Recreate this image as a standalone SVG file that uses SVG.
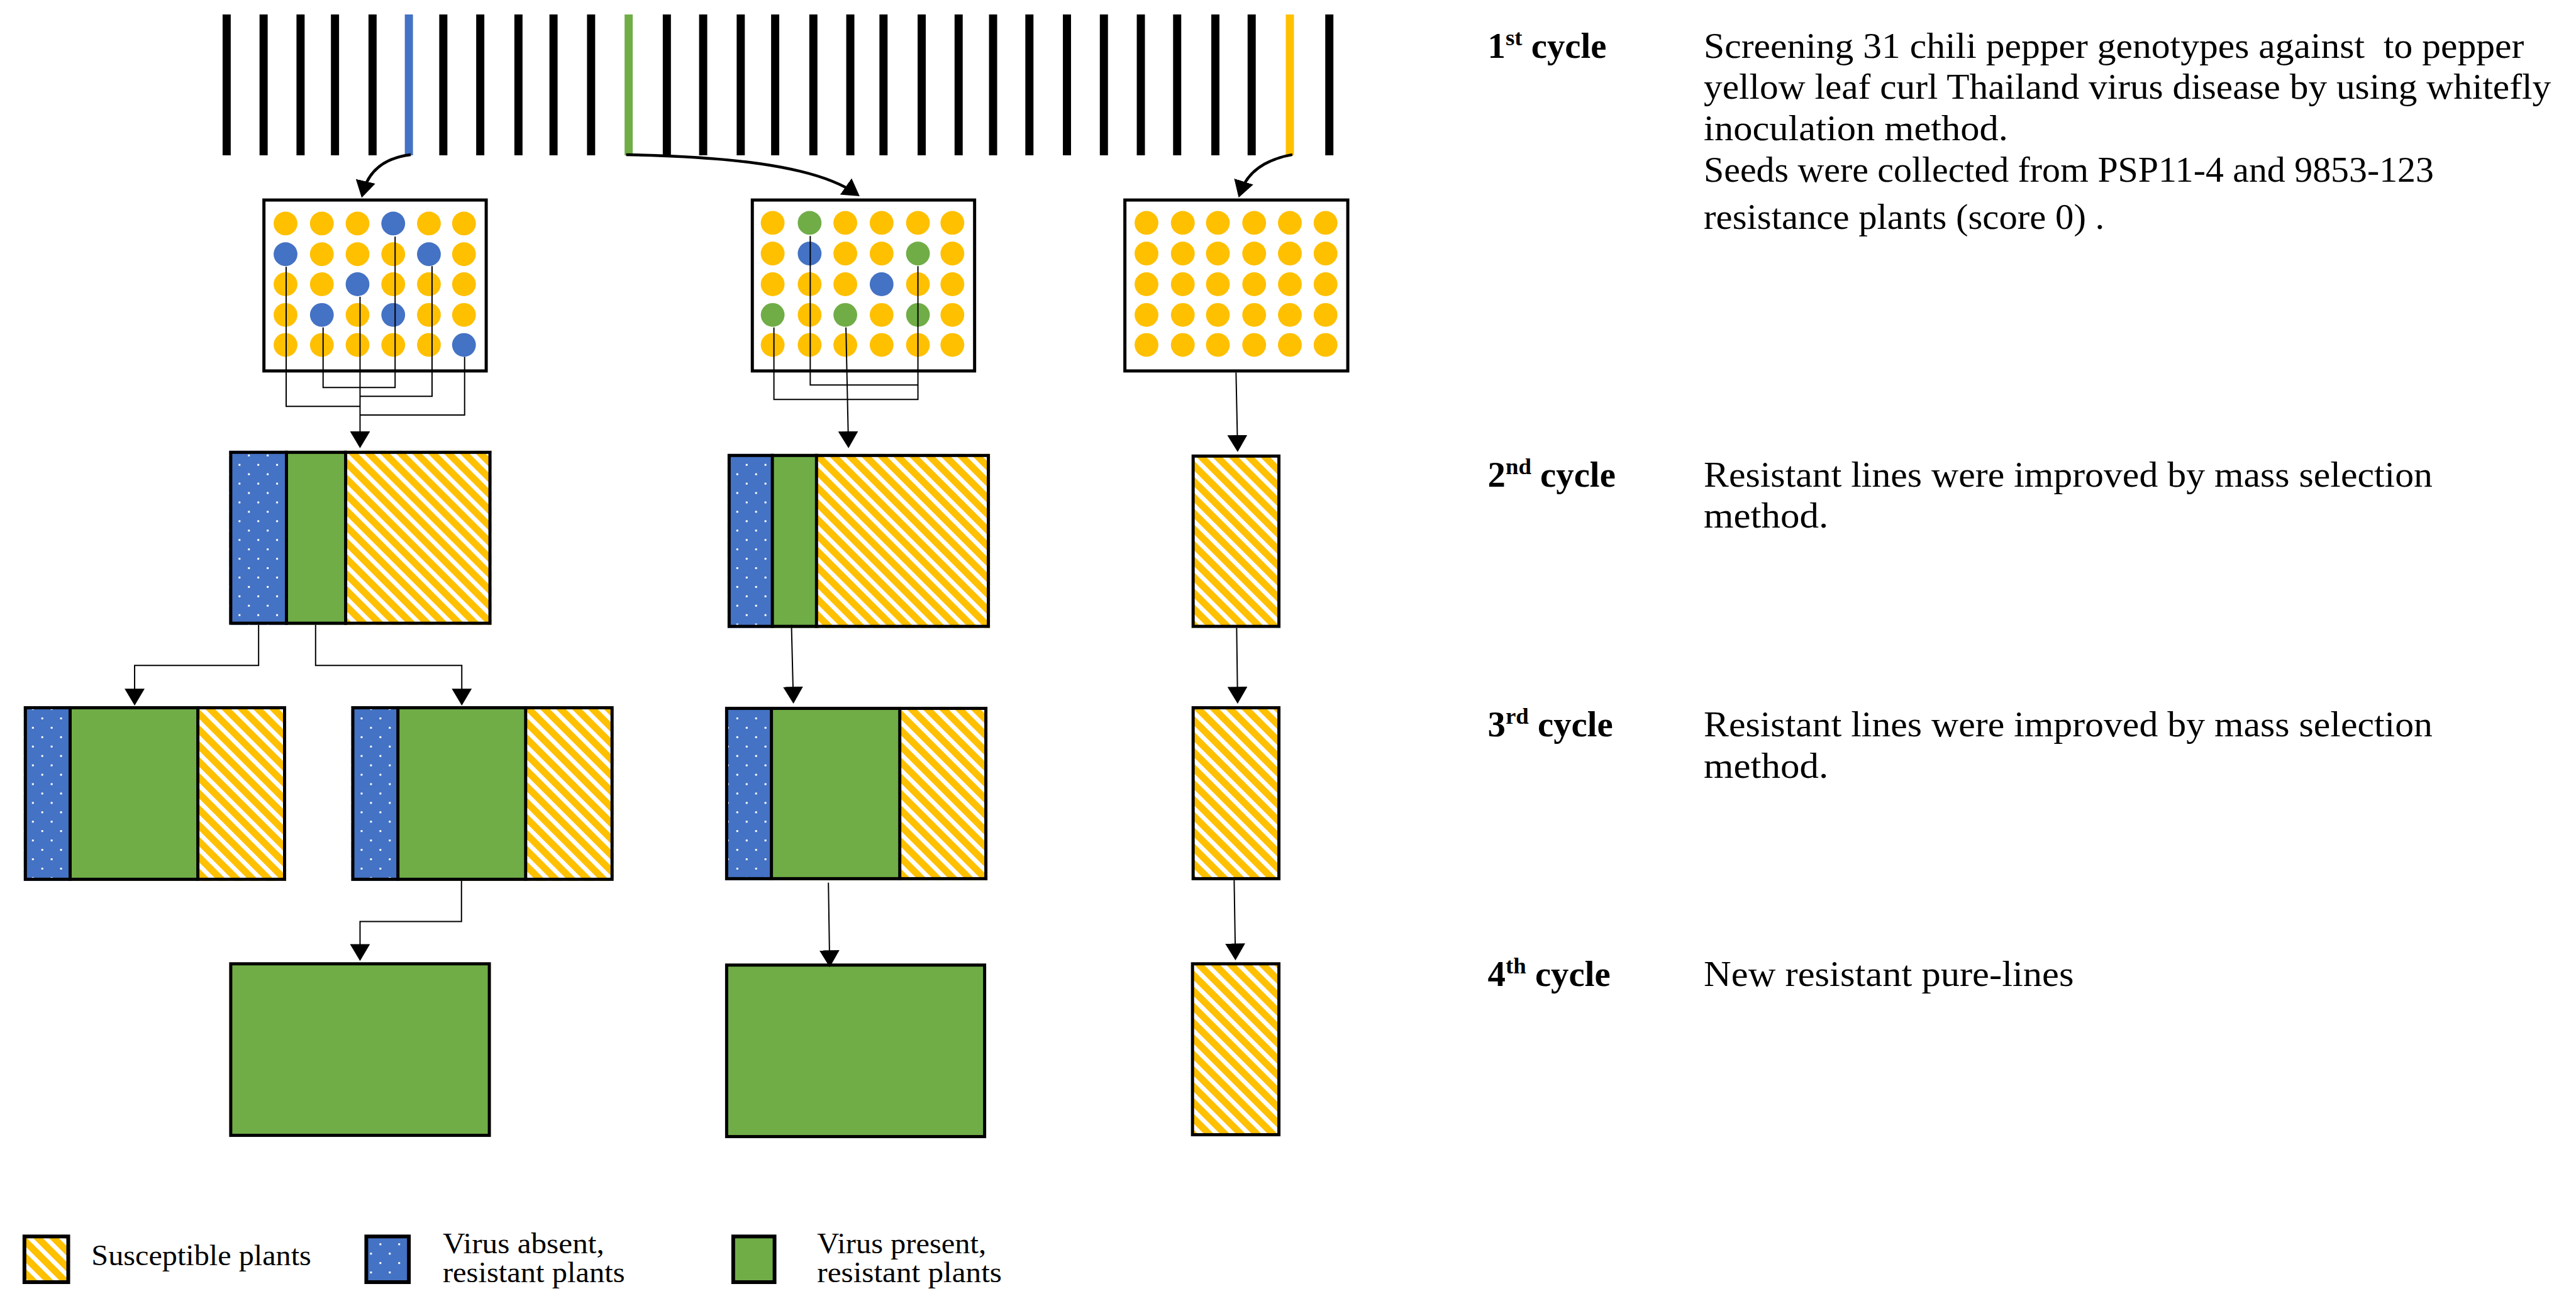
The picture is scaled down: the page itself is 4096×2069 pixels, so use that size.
<svg xmlns="http://www.w3.org/2000/svg" width="4096" height="2069" viewBox="0 0 4096 2069">
<defs>
<style>
.bar{stroke-width:13}
.k{stroke:#000}
.box{stroke:#000;stroke-width:5;fill:none}
.bx{stroke:#000;stroke-width:5}
.div{stroke:#000;stroke-width:5}
.y{fill:#FFC000}
.b{fill:#4472C4}
.g{fill:#70AD47}
.w{fill:#fff}
.h{fill:url(#hatch)}
.d{fill:url(#dots)}
.thin{fill:none;stroke:#000;stroke-width:2}
.conn{fill:none;stroke:#000;stroke-width:2;marker-end:url(#ah)}
.curve{fill:none;stroke:#000;stroke-width:4.5;marker-end:url(#ah)}
.t{font-family:"Liberation Serif","DejaVu Serif",serif;font-size:57px;fill:#000}
.lb{font-weight:bold}
.sup{font-size:37px}
.lg{font-size:46px}
</style>
<pattern id="hatch" patternUnits="userSpaceOnUse" width="18" height="18" patternTransform="rotate(-45)">
<rect width="18" height="18" fill="#FFC000"/>
<rect width="7" height="18" fill="#fff"/>
</pattern>
<pattern id="dots" patternUnits="userSpaceOnUse" width="30" height="30">
<rect width="30" height="30" fill="#4472C4"/>
<rect x="6" y="6" width="3" height="3" fill="#fff"/>
<rect x="21" y="21" width="3" height="3" fill="#fff"/>
</pattern>
<marker id="ah" markerUnits="userSpaceOnUse" viewBox="0 0 27 32" refX="21" refY="16" markerWidth="27" markerHeight="32" orient="auto">
<path d="M0,0 L27,16 L0,32 Z" fill="#000"/>
</marker>
</defs>
<rect width="4096" height="2069" fill="#fff"/>
<g transform="scale(0.99562)">

<g id="genotype-bars" class="bar">
<line class="k" x1="362" y1="23" x2="362" y2="248"/>
<line class="k" x1="421" y1="23" x2="421" y2="248"/>
<line class="k" x1="480" y1="23" x2="480" y2="248"/>
<line class="k" x1="535" y1="23" x2="535" y2="248"/>
<line class="k" x1="595" y1="23" x2="595" y2="248"/>
<line stroke="#4472C4" x1="653" y1="23" x2="653" y2="248"/>
<line class="k" x1="708" y1="23" x2="708" y2="248"/>
<line class="k" x1="767" y1="23" x2="767" y2="248"/>
<line class="k" x1="828" y1="23" x2="828" y2="248"/>
<line class="k" x1="884" y1="23" x2="884" y2="248"/>
<line class="k" x1="944" y1="23" x2="944" y2="248"/>
<line stroke="#70AD47" x1="1004" y1="23" x2="1004" y2="248"/>
<line class="k" x1="1065" y1="23" x2="1065" y2="248"/>
<line class="k" x1="1123" y1="23" x2="1123" y2="248"/>
<line class="k" x1="1183" y1="23" x2="1183" y2="248"/>
<line class="k" x1="1238" y1="23" x2="1238" y2="248"/>
<line class="k" x1="1299" y1="23" x2="1299" y2="248"/>
<line class="k" x1="1358" y1="23" x2="1358" y2="248"/>
<line class="k" x1="1411" y1="23" x2="1411" y2="248"/>
<line class="k" x1="1472" y1="23" x2="1472" y2="248"/>
<line class="k" x1="1531" y1="23" x2="1531" y2="248"/>
<line class="k" x1="1586" y1="23" x2="1586" y2="248"/>
<line class="k" x1="1644" y1="23" x2="1644" y2="248"/>
<line class="k" x1="1704" y1="23" x2="1704" y2="248"/>
<line class="k" x1="1763" y1="23" x2="1763" y2="248"/>
<line class="k" x1="1822" y1="23" x2="1822" y2="248"/>
<line class="k" x1="1880" y1="23" x2="1880" y2="248"/>
<line class="k" x1="1941" y1="23" x2="1941" y2="248"/>
<line class="k" x1="1999" y1="23" x2="1999" y2="248"/>
<line stroke="#FFC000" x1="2060" y1="23" x2="2060" y2="248"/>
<line class="k" x1="2123" y1="23" x2="2123" y2="248"/>
</g>

<g id="screen-A">
<rect class="box w" x="421.5" y="319.5" width="355" height="273"/>
<circle class="y" cx="456" cy="357" r="19"/><circle class="y" cx="514" cy="357" r="19"/><circle class="y" cx="571" cy="357" r="19"/><circle class="b" cx="628" cy="357" r="19"/><circle class="y" cx="685" cy="357" r="19"/><circle class="y" cx="741" cy="357" r="19"/>
<circle class="b" cx="456" cy="406" r="19"/><circle class="y" cx="514" cy="406" r="19"/><circle class="y" cx="571" cy="406" r="19"/><circle class="y" cx="628" cy="406" r="19"/><circle class="b" cx="685" cy="406" r="19"/><circle class="y" cx="741" cy="406" r="19"/>
<circle class="y" cx="456" cy="454" r="19"/><circle class="y" cx="514" cy="454" r="19"/><circle class="b" cx="571" cy="454" r="19"/><circle class="y" cx="628" cy="454" r="19"/><circle class="y" cx="685" cy="454" r="19"/><circle class="y" cx="741" cy="454" r="19"/>
<circle class="y" cx="456" cy="503" r="19"/><circle class="b" cx="514" cy="503" r="19"/><circle class="y" cx="571" cy="503" r="19"/><circle class="b" cx="628" cy="503" r="19"/><circle class="y" cx="685" cy="503" r="19"/><circle class="y" cx="741" cy="503" r="19"/>
<circle class="y" cx="456" cy="551" r="19"/><circle class="y" cx="514" cy="551" r="19"/><circle class="y" cx="571" cy="551" r="19"/><circle class="y" cx="628" cy="551" r="19"/><circle class="y" cx="685" cy="551" r="19"/><circle class="b" cx="741" cy="551" r="19"/>
</g>

<g id="screen-B">
<rect class="box w" x="1201.5" y="319.5" width="355" height="273"/>
<circle class="y" cx="1234" cy="356" r="19"/><circle class="g" cx="1293" cy="356" r="19"/><circle class="y" cx="1350" cy="356" r="19"/><circle class="y" cx="1408" cy="356" r="19"/><circle class="y" cx="1466" cy="356" r="19"/><circle class="y" cx="1521" cy="356" r="19"/>
<circle class="y" cx="1234" cy="405" r="19"/><circle class="b" cx="1293" cy="405" r="19"/><circle class="y" cx="1350" cy="405" r="19"/><circle class="y" cx="1408" cy="405" r="19"/><circle class="g" cx="1466" cy="405" r="19"/><circle class="y" cx="1521" cy="405" r="19"/>
<circle class="y" cx="1234" cy="454" r="19"/><circle class="y" cx="1293" cy="454" r="19"/><circle class="y" cx="1350" cy="454" r="19"/><circle class="b" cx="1408" cy="454" r="19"/><circle class="y" cx="1466" cy="454" r="19"/><circle class="y" cx="1521" cy="454" r="19"/>
<circle class="g" cx="1234" cy="503" r="19"/><circle class="y" cx="1293" cy="503" r="19"/><circle class="g" cx="1350" cy="503" r="19"/><circle class="y" cx="1408" cy="503" r="19"/><circle class="g" cx="1466" cy="503" r="19"/><circle class="y" cx="1521" cy="503" r="19"/>
<circle class="y" cx="1234" cy="551" r="19"/><circle class="y" cx="1293" cy="551" r="19"/><circle class="y" cx="1350" cy="551" r="19"/><circle class="y" cx="1408" cy="551" r="19"/><circle class="y" cx="1466" cy="551" r="19"/><circle class="y" cx="1521" cy="551" r="19"/>
</g>

<g id="screen-C">
<rect class="box w" x="1796.5" y="319.5" width="356" height="273"/>
<g class="y">
<circle cx="1831" cy="356" r="19"/><circle cx="1889" cy="356" r="19"/><circle cx="1945" cy="356" r="19"/><circle cx="2003" cy="356" r="19"/><circle cx="2060" cy="356" r="19"/><circle cx="2117" cy="356" r="19"/>
<circle cx="1831" cy="405" r="19"/><circle cx="1889" cy="405" r="19"/><circle cx="1945" cy="405" r="19"/><circle cx="2003" cy="405" r="19"/><circle cx="2060" cy="405" r="19"/><circle cx="2117" cy="405" r="19"/>
<circle cx="1831" cy="454" r="19"/><circle cx="1889" cy="454" r="19"/><circle cx="1945" cy="454" r="19"/><circle cx="2003" cy="454" r="19"/><circle cx="2060" cy="454" r="19"/><circle cx="2117" cy="454" r="19"/>
<circle cx="1831" cy="503" r="19"/><circle cx="1889" cy="503" r="19"/><circle cx="1945" cy="503" r="19"/><circle cx="2003" cy="503" r="19"/><circle cx="2060" cy="503" r="19"/><circle cx="2117" cy="503" r="19"/>
<circle cx="1831" cy="551" r="19"/><circle cx="1889" cy="551" r="19"/><circle cx="1945" cy="551" r="19"/><circle cx="2003" cy="551" r="19"/><circle cx="2060" cy="551" r="19"/><circle cx="2117" cy="551" r="19"/>
</g>
</g>

<g id="cycle2-A">
<rect class="d" x="366" y="720" width="91.5" height="278"/>
<rect class="g" x="457.5" y="720" width="94.5" height="278"/>
<rect class="h" x="552" y="720" width="233" height="278"/>
<line class="div" x1="457.5" y1="720" x2="457.5" y2="998"/>
<line class="div" x1="552" y1="720" x2="552" y2="998"/>
<rect class="box" x="368.5" y="722.5" width="414" height="273"/>
</g>

<g id="cycle2-B">
<rect class="d" x="1162" y="725" width="71.5" height="278"/>
<rect class="g" x="1233.5" y="725" width="70.5" height="278"/>
<rect class="h" x="1304" y="725" width="277" height="278"/>
<line class="div" x1="1233.5" y1="725" x2="1233.5" y2="1003"/>
<line class="div" x1="1304" y1="725" x2="1304" y2="1003"/>
<rect class="box" x="1164.5" y="727.5" width="414" height="273"/>
</g>

<g id="cycle2-C">
<rect class="bx h" x="1905.5" y="728.5" width="137" height="272"/>
</g>

<g id="cycle3-A1">
<rect class="d" x="38" y="1128" width="74" height="279"/>
<rect class="g" x="112" y="1128" width="204" height="279"/>
<rect class="h" x="316" y="1128" width="141" height="279"/>
<line class="div" x1="112" y1="1128" x2="112" y2="1407"/>
<line class="div" x1="316" y1="1128" x2="316" y2="1407"/>
<rect class="box" x="40.5" y="1130.5" width="414" height="274"/>
</g>

<g id="cycle3-A2">
<rect class="d" x="561" y="1128" width="74.5" height="279"/>
<rect class="g" x="635.5" y="1128" width="204" height="279"/>
<rect class="h" x="839.5" y="1128" width="140.5" height="279"/>
<line class="div" x1="635.5" y1="1128" x2="635.5" y2="1407"/>
<line class="div" x1="839.5" y1="1128" x2="839.5" y2="1407"/>
<rect class="box" x="563.5" y="1130.5" width="414" height="274"/>
</g>

<g id="cycle3-B">
<rect class="d" x="1158" y="1129" width="74" height="277"/>
<rect class="g" x="1232" y="1129" width="205" height="277"/>
<rect class="h" x="1437" y="1129" width="140" height="277"/>
<line class="div" x1="1232" y1="1129" x2="1232" y2="1406"/>
<line class="div" x1="1437" y1="1129" x2="1437" y2="1406"/>
<rect class="box" x="1160.5" y="1131.5" width="414" height="272"/>
</g>

<g id="cycle3-C">
<rect class="bx h" x="1905.5" y="1130.5" width="137" height="273"/>
</g>

<g id="cycle4-A">
<rect class="bx g" x="368.5" y="1539.5" width="413" height="274"/>
</g>

<g id="cycle4-B">
<rect class="bx g" x="1160.5" y="1541.5" width="412" height="274"/>
</g>

<g id="cycle4-C">
<rect class="bx h" x="1904.5" y="1539.5" width="138" height="273"/>
</g>

<g id="connectors">
<path class="curve" d="M656 247 C615 252 588 272 579 310"/>
<path class="curve" d="M1000 247 C1150 250 1300 262 1368 310"/>
<path class="curve" d="M2064 247 C2025 254 1992 272 1980 310"/>
<path class="thin" d="M516 523 V619 H631 V378"/>
<path class="thin" d="M690 425 V633 H575"/>
<path class="thin" d="M457 426 V649 H575"/>
<path class="thin" d="M742 570 V663 H575"/>
<path class="conn" d="M575 474 V710"/>
<path class="thin" d="M1294 377 V615 H1466"/>
<path class="thin" d="M1466 425 V638 H1236 V523"/>
<path class="conn" d="M1351 523 L1355 710"/>
<path class="conn" d="M1974 595 L1976.5 716"/>
<path class="conn" d="M413 998 V1063 H215 V1121"/>
<path class="conn" d="M504 998 V1063 H737.5 V1121"/>
<path class="conn" d="M737 1407 V1472 H575 V1529"/>
<path class="conn" d="M1264 998 L1267 1118"/>
<path class="conn" d="M1323 1410 L1325 1539"/>
<path class="conn" d="M1975 1003 L1976.5 1118"/>
<path class="conn" d="M1971 1406 L1973 1528"/>
</g>

<g id="cycle-descriptions" class="t">
<text class="lb" x="2376" y="92">1<tspan class="sup" dy="-20">st</tspan><tspan dy="20"> cycle</tspan></text>
<text x="2721" y="92" textLength="1310" lengthAdjust="spacingAndGlyphs" xml:space="preserve">Screening 31 chili pepper genotypes against  to pepper</text>
<text x="2721" y="158" textLength="1353" lengthAdjust="spacingAndGlyphs">yellow leaf curl Thailand virus disease by using whitefly</text>
<text x="2721" y="224" textLength="486" lengthAdjust="spacingAndGlyphs">inoculation method.</text>
<text x="2721" y="290" textLength="1166" lengthAdjust="spacingAndGlyphs">Seeds were collected from PSP11-4 and 9853-123</text>
<text x="2721" y="366" textLength="640" lengthAdjust="spacingAndGlyphs">resistance plants (score 0) .</text>

<text class="lb" x="2376" y="777">2<tspan class="sup" dy="-20">nd</tspan><tspan dy="20"> cycle</tspan></text>
<text x="2721" y="777" textLength="1164" lengthAdjust="spacingAndGlyphs">Resistant lines were improved by mass selection</text>
<text x="2721" y="843" textLength="199" lengthAdjust="spacingAndGlyphs">method.</text>

<text class="lb" x="2376" y="1176">3<tspan class="sup" dy="-20">rd</tspan><tspan dy="20"> cycle</tspan></text>
<text x="2721" y="1176" textLength="1164" lengthAdjust="spacingAndGlyphs">Resistant lines were improved by mass selection</text>
<text x="2721" y="1242" textLength="199" lengthAdjust="spacingAndGlyphs">method.</text>

<text class="lb" x="2376" y="1575">4<tspan class="sup" dy="-20">th</tspan><tspan dy="20"> cycle</tspan></text>
<text x="2721" y="1575" textLength="591" lengthAdjust="spacingAndGlyphs">New resistant pure-lines</text>
</g>

<g id="legend">
<g id="legend-susceptible">
<rect x="39" y="1975" width="70" height="73" fill="url(#hatch)" stroke="#000" stroke-width="6"/>
<text class="t lg" x="146" y="2021" textLength="351" lengthAdjust="spacingAndGlyphs">Susceptible plants</text>
</g>
<g id="legend-absent">
<rect x="585" y="1975" width="68" height="73" fill="url(#dots)" stroke="#000" stroke-width="6"/>
<text class="t lg" x="707" y="2002" textLength="258" lengthAdjust="spacingAndGlyphs">Virus absent,</text>
<text class="t lg" x="707" y="2048" textLength="291" lengthAdjust="spacingAndGlyphs">resistant plants</text>
</g>
<g id="legend-present">
<rect x="1171" y="1975" width="66" height="73" fill="#70AD47" stroke="#000" stroke-width="6"/>
<text class="t lg" x="1305" y="2002" textLength="270" lengthAdjust="spacingAndGlyphs">Virus present,</text>
<text class="t lg" x="1305" y="2048" textLength="295" lengthAdjust="spacingAndGlyphs">resistant plants</text>
</g>
</g>

</g>
</svg>
